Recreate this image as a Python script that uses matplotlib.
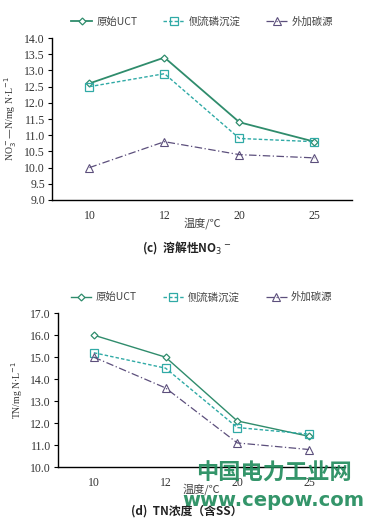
import matplotlib
matplotlib.use("Agg")
import matplotlib.pyplot as plt
import numpy as np

plt.rcParams['font.family'] = ['Noto Sans CJK SC', 'DejaVu Sans']

temps = ["10", "12", "20", "25"]
series_names = ["原始UCT", "侧流磷沉淀", "外加碳源"]

no3_uct = [12.6, 13.4, 11.4, 10.8]
no3_side = [12.5, 12.9, 10.9, 10.8]
no3_carbon = [10.0, 10.8, 10.4, 10.3]

tn_uct = [16.0, 15.0, 12.1, 11.4]
tn_side = [15.2, 14.5, 11.8, 11.5]
tn_carbon = [15.0, 13.6, 11.1, 10.8]

no3_yticks = [9.0, 9.5, 10.0, 10.5, 11.0, 11.5, 12.0, 12.5, 13.0, 13.5, 14.0]
tn_yticks = [10.0, 11.0, 12.0, 13.0, 14.0, 15.0, 16.0, 17.0]

c_uct = "#2f8c6c"
c_side = "#30aaa6"
c_carbon = "#5c4f7c"
serif = "Liberation Serif"

fig = plt.figure(figsize=(3.74, 5.29), dpi=100)
ax1 = fig.add_axes([0.139, 0.622, 0.802, 0.306])
ax2 = fig.add_axes([0.155, 0.117, 0.767, 0.291])

def draw(ax, data, yticks, ylabel, uct_lw):
    x = np.arange(len(temps))
    styles = [
        dict(color=c_uct, ls='-', marker='D', ms=3.5, mfc='white', mew=0.9, lw=uct_lw),
        dict(color=c_side, ls=(0, (2.5, 1.5)), marker='s', ms=5.5, mfc='none', mew=0.9, lw=1.0),
        dict(color=c_carbon, ls=(0, (6, 2, 1, 2)), marker='^', ms=5.5, mfc='none', mew=0.8, lw=0.9),
    ]
    lines = []
    for vals, st, name in zip(data, styles, series_names):
        l, = ax.plot(x, vals, label=name, **st)
        lines.append(l)
    ax.set_xlim(-0.5, 3.5)
    ax.set_ylim(yticks[0], yticks[-1])
    ax.set_yticks(yticks)
    ax.set_yticklabels([f"{v:.1f}" for v in yticks], fontfamily=serif, fontsize=8.5, color="#333333")
    ax.set_xticks(x)
    ax.set_xticklabels(temps, fontfamily=serif, fontsize=8.5, color="#333333")
    ax.tick_params(axis='x', length=0, pad=7)
    ax.tick_params(axis='y', length=3, width=0.8, direction='out', pad=2)
    for s in ['top', 'right']:
        ax.spines[s].set_visible(False)
    for s in ['left', 'bottom']:
        ax.spines[s].set_linewidth(1.0)
        ax.spines[s].set_color('black')
    ax.set_ylabel(ylabel, fontfamily=serif, fontsize=7, color="#333333", labelpad=4)
    leg = ax.legend(handles=lines, loc='lower center', bbox_to_anchor=(0.5, 1.03), ncol=3,
                    frameon=False, fontsize=7.5, handlelength=2.0, columnspacing=2.5,
                    handletextpad=0.4, borderaxespad=0.2)
    for t in leg.get_texts():
        t.set_color("#444444")
    return ax

draw(ax1, [no3_uct, no3_side, no3_carbon], no3_yticks, "NO$_3^-$—N/mg N·L$^{-1}$", 1.3)
draw(ax2, [tn_uct, tn_side, tn_carbon], tn_yticks, "TN/mg N·L$^{-1}$", 1.0)

ax1.set_xlabel("温度/℃", fontsize=8, color="#444444", labelpad=-3)
ax2.set_xlabel("温度/℃", fontsize=8, color="#444444", labelpad=-4)

fig.text(0.5, 1 - 248/529, "(c)  溶解性NO$_3$$^-$", ha='center', va='center', fontsize=8.5,
         fontweight='bold', color="#222222")
fig.text(0.5, 1 - 511/529, "(d)  TN浓度（含SS）", ha='center', va='center', fontsize=8.5,
         fontweight='bold', color="#222222")

# watermark
fig.text(0.733, 1 - 473/529, "中国电力工业网", ha='center', va='center', fontsize=16,
         fontweight='bold', color="#1e8a5a", alpha=0.9)
fig.text(0.73, 1 - 500/529, "www.cepow.com", ha='center', va='center', fontsize=14,
         fontweight='bold', color="#1e8a5a", alpha=0.9, fontfamily='DejaVu Sans')

fig.savefig("out.png", dpi=100)
